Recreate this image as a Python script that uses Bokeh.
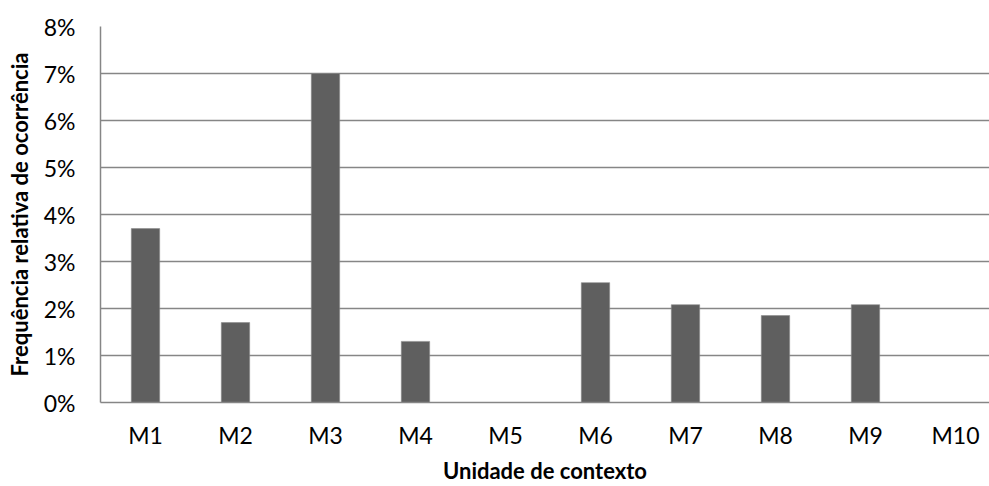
import numpy as np
from bokeh.plotting import figure
from bokeh.models import ColumnDataSource, Range1d, FixedTicker, NumeralTickFormatter
from bokeh.embed import file_html
from bokeh.resources import INLINE

categories = ["M1", "M2", "M3", "M4", "M5", "M6", "M7", "M8", "M9", "M10"]
values = [0.037, 0.017, 0.070, 0.013, 0.0, 0.0255, 0.0208, 0.0185, 0.0208, 0.0]
y_ticks = [0.0, 0.01, 0.02, 0.03, 0.04, 0.05, 0.06, 0.07, 0.08]

xpos = list(np.arange(len(categories)) + 1.0)
src = ColumnDataSource(dict(x=xpos, top=values))

FONT = "Lato"
p = figure(width=989, height=486, output_backend="svg", toolbar_location=None,
           x_range=Range1d(0.5, 10.378), y_range=Range1d(0, 0.08),
           min_border_left=100, min_border_right=0, min_border_top=26, min_border_bottom=84)
p.outline_line_color = None
p.background_fill_color = "white"

p.vbar(x="x", top="top", width=0.315, source=src, fill_color="#5f5f5f", line_color="#8a8a8a", line_width=0.6)

p.yaxis.ticker = FixedTicker(ticks=y_ticks)
p.yaxis.formatter = NumeralTickFormatter(format="0%")
p.xaxis.ticker = FixedTicker(ticks=xpos)
p.xaxis.major_label_overrides = {float(x): c for x, c in zip(xpos, categories)}

for ax in (p.xaxis, p.yaxis):
    ax.axis_line_color = "#868686"
    ax.axis_line_width = 1.5
    ax.major_tick_line_color = None
    ax.minor_tick_line_color = None
    ax.major_tick_out = 0
    ax.major_tick_in = 0
    ax.minor_tick_out = 0
    ax.major_label_text_font = FONT
    ax.major_label_text_font_size = "23px"
    ax.major_label_text_color = "black"
    ax.axis_label_text_font = FONT
    ax.axis_label_text_font_style = "bold"
    ax.axis_label_text_font_size = "22px"
    ax.axis_label_text_color = "black"

p.yaxis.major_label_standoff = 25
p.xaxis.major_label_standoff = 18
p.xaxis.axis_label = "Unidade de contexto"
p.yaxis.axis_label = "Frequência relativa de ocorrência"
p.xaxis.axis_label_standoff = 5
p.yaxis.axis_label_standoff = 8

p.xgrid.grid_line_color = None
p.ygrid.grid_line_color = "#868686"
p.ygrid.grid_line_width = 1.5

open("out.html", "w").write(file_html(p, INLINE))
